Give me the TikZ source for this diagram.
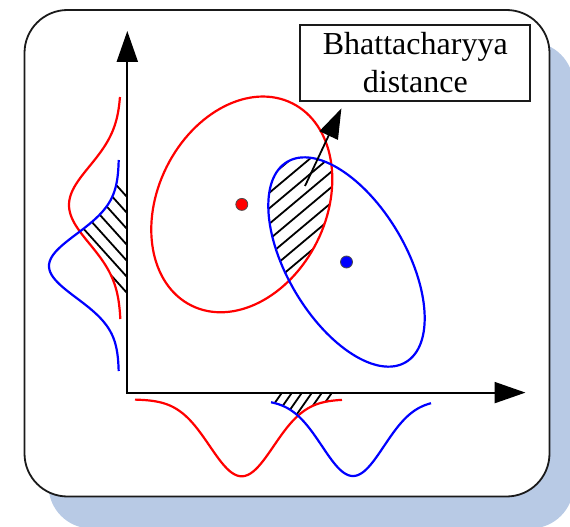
\documentclass[tikz,border=0pt]{standalone}
\usepackage{fontspec}
\setmainfont{Liberation Serif}
\usetikzlibrary{arrows.meta, calc}
\definecolor{bdred}{HTML}{FF0000}
\definecolor{bdblue}{HTML}{0000FF}
\definecolor{bdshadow}{HTML}{B8CAE5}
\definecolor{bdframe}{HTML}{1A1A1A}

\begin{document}
\begin{tikzpicture}[x=1pt, y=-1pt,
    curve/.style={line width=2.2pt},
    hatch/.style={line width=1.8pt, black},
    axis/.style={line width=2.2pt, {Triangle[length=31pt, width=21pt]}-{Triangle[length=31pt, width=21pt]}},
    pointer/.style={line width=1.8pt, -{Triangle[length=30pt, width=20pt]}},
    mean/.style={circle, draw=black!70, line width=0.8pt, minimum size=12pt, inner sep=0pt}]
\useasboundingbox (0,0) rectangle (570,527);
% Shadow and frame
\fill[bdshadow, rounded corners=43pt] (48.5,42) rectangle (573.5,528.5);
\draw[fill=white, draw=bdframe, line width=1.8pt, rounded corners=43pt] (24.5,10) rectangle (549.5,496.5);
% Centres of the two classes
\coordinate (redc) at (241.8,204.4);
\coordinate (bluec) at (346.5,262);
% Overlap of the two ellipses
\begin{scope}
  \clip[rotate around={63.5:(redc)}] (redc) ellipse [x radius=113, y radius=84];
  \clip[rotate around={-59.4:(bluec)}] (bluec) ellipse [x radius=116.4, y radius=59.3];
  \foreach \k in {0,...,10}
    \draw[hatch] (250,178+15.5*\k) -- ++(120,-100.7);
\end{scope}
% Overlap on the vertical axis
\begin{scope}
  \clip plot[domain=185:293, samples=40, variable=\t]
    ({max(121-52*exp(-0.5*((\t-205)/38.7)^2), 119-70*exp(-0.5*((\t-266)/32)^2))}, \t)
    -- (127.3,293) -- (127.3,185) -- cycle;
  \foreach \k in {0,...,7}
    \draw[hatch] (127.3,181.3+16*\k) -- ++(-70,-77.7);
\end{scope}
% Overlap on the horizontal axis
\begin{scope}
  \clip plot[domain=274:336, samples=40, variable=\t]
    (\t, {min(399.3+77*exp(-0.5*((\t-241.7)/32)^2), 400+76*exp(-0.5*((\t-353)/31)^2))})
    -- (336,392.6) -- (274,392.6) -- cycle;
  \foreach \k in {0,...,8}
    \draw[hatch] (272+10*\k,392.6) -- ++(-20,28.6);
\end{scope}
% Marginal densities, vertical axis
\draw[curve, bdred] plot[domain=97:319, samples=80, variable=\t]
  ({121-52*exp(-0.5*((\t-205)/38.7)^2)}, \t);
\draw[curve, bdblue] plot[domain=160:371, samples=80, variable=\t]
  ({119-70*exp(-0.5*((\t-266)/32)^2)}, \t);
% Marginal densities, horizontal axis
\draw[curve, bdred] plot[domain=135:342, samples=80, variable=\t]
  (\t, {399.3+77*exp(-0.5*((\t-241.7)/32)^2)});
\draw[curve, bdblue] plot[domain=271:431, samples=80, variable=\t]
  (\t, {400+76*exp(-0.5*((\t-353)/31)^2)});
% Ellipses
\draw[curve, bdred, rotate around={63.5:(redc)}] (redc) ellipse [x radius=113, y radius=84];
\draw[curve, bdblue, rotate around={-59.4:(bluec)}] (bluec) ellipse [x radius=116.4, y radius=59.3];
\node[mean, fill=bdred] (redmean) at (redc) {};
\node[mean, fill=bdblue] (bluemean) at (bluec) {};
% Axes
\coordinate (origin) at (127.3,392.6);
\coordinate (yend) at (127.3,31);
\coordinate (xend) at (525.5,392.6);
\draw[axis] (yend) -- (origin) -- (xend);
% Label
\node[draw=bdframe, line width=1.8pt, minimum width=230pt, minimum height=76pt,
      inner sep=0pt, align=center, font=\fontsize{32}{38}\selectfont]
  (bdist) at (415.3,63) {Bhattacharyya\\distance};
\coordinate (overlap) at (305,186);
\coordinate (tip) at ($(bdist.south west)+(42,6.5)$);
\draw[pointer] (overlap) -- (tip);
\end{tikzpicture}
\end{document}
